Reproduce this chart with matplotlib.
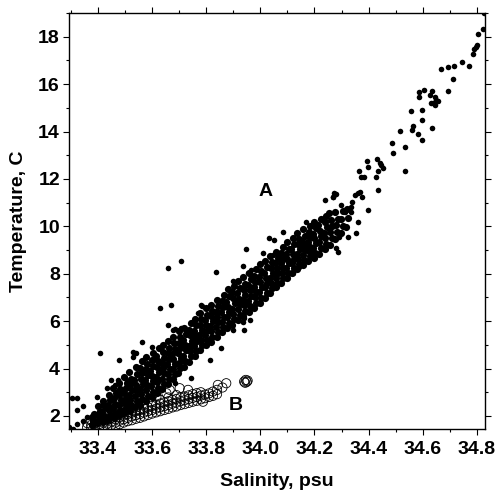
import matplotlib
matplotlib.use("Agg")
import matplotlib.pyplot as plt
from matplotlib.ticker import MultipleLocator, FormatStrFormatter

# ---- Data: salinity (psu) / temperature (C) pairs ----
# Group A, dense core of the T-S relation, listed by salinity column
group_a_core = [
    (33.377, 1.62), (33.383, 1.78), (33.379, 1.95), (33.386, 2.10),
    (33.397, 1.70), (33.404, 1.88), (33.399, 2.02), (33.406, 2.21), (33.401, 2.40),
    (33.418, 1.76), (33.423, 1.98), (33.416, 2.17), (33.425, 2.36), (33.419, 2.62),
    (33.437, 1.82), (33.444, 2.03), (33.441, 2.24), (33.436, 2.45), (33.446, 2.66), (33.439, 2.90),
    (33.458, 1.90), (33.464, 2.12), (33.456, 2.33), (33.462, 2.52), (33.459, 2.74), (33.465, 2.95), (33.457, 3.18),
    (33.477, 2.02), (33.483, 2.25), (33.479, 2.47), (33.486, 2.68), (33.476, 2.90), (33.482, 3.12), (33.479, 3.40),
    (33.497, 2.12), (33.503, 2.33), (33.499, 2.55), (33.505, 2.76), (33.496, 2.97), (33.502, 3.18), (33.507, 3.40), (33.498, 3.64),
    (33.517, 2.22), (33.523, 2.45), (33.519, 2.68), (33.514, 2.90), (33.525, 3.10), (33.518, 3.33), (33.522, 3.56), (33.516, 3.84),
    (33.538, 2.38), (33.543, 2.62), (33.536, 2.86), (33.545, 3.08), (33.539, 3.30), (33.535, 3.52), (33.544, 3.77), (33.540, 4.05),
    (33.557, 2.48), (33.563, 2.70), (33.559, 2.92), (33.555, 3.14), (33.565, 3.36), (33.558, 3.58), (33.562, 3.80), (33.556, 4.03), (33.564, 4.30),
    (33.577, 2.62), (33.584, 2.85), (33.578, 3.08), (33.583, 3.30), (33.575, 3.52), (33.586, 3.74), (33.579, 3.97), (33.582, 4.20), (33.576, 4.50),
    (33.598, 2.80), (33.603, 3.02), (33.596, 3.25), (33.605, 3.47), (33.600, 3.68), (33.594, 3.90), (33.604, 4.12), (33.599, 4.36), (33.602, 4.66),
    (33.617, 2.98), (33.623, 3.20), (33.619, 3.43), (33.614, 3.65), (33.625, 3.86), (33.618, 4.08), (33.622, 4.31), (33.616, 4.55), (33.624, 4.85),
    (33.638, 3.15), (33.643, 3.36), (33.636, 3.58), (33.645, 3.80), (33.640, 4.02), (33.635, 4.24), (33.644, 4.46), (33.639, 4.70), (33.642, 4.98),
    (33.657, 3.33), (33.663, 3.55), (33.659, 3.77), (33.665, 3.99), (33.656, 4.20), (33.662, 4.42), (33.658, 4.64), (33.664, 4.88), (33.660, 5.18),
    (33.678, 3.58), (33.683, 3.78), (33.676, 3.99), (33.685, 4.20), (33.679, 4.40), (33.674, 4.61), (33.684, 4.83), (33.680, 5.06), (33.677, 5.35),
    (33.697, 3.82), (33.703, 4.03), (33.699, 4.24), (33.705, 4.45), (33.696, 4.66), (33.702, 4.87), (33.698, 5.08), (33.704, 5.31), (33.700, 5.60),
    (33.718, 4.08), (33.723, 4.31), (33.716, 4.54), (33.725, 4.77), (33.720, 4.99), (33.714, 5.21), (33.724, 5.44), (33.719, 5.72),
    (33.737, 4.28), (33.744, 4.51), (33.739, 4.74), (33.735, 4.96), (33.746, 5.18), (33.740, 5.40), (33.736, 5.63), (33.743, 5.92),
    (33.758, 4.52), (33.763, 4.74), (33.756, 4.96), (33.765, 5.17), (33.760, 5.38), (33.754, 5.60), (33.764, 5.83), (33.759, 6.10),
    (33.777, 4.78), (33.783, 5.00), (33.779, 5.22), (33.775, 5.43), (33.785, 5.64), (33.778, 5.85), (33.782, 6.07), (33.776, 6.35),
    (33.798, 4.98), (33.803, 5.20), (33.796, 5.42), (33.805, 5.63), (33.800, 5.84), (33.794, 6.05), (33.804, 6.28), (33.799, 6.55),
    (33.817, 5.13), (33.823, 5.35), (33.819, 5.57), (33.814, 5.78), (33.825, 5.99), (33.818, 6.20), (33.822, 6.43), (33.816, 6.70),
    (33.838, 5.33), (33.843, 5.55), (33.836, 5.77), (33.845, 5.98), (33.840, 6.19), (33.835, 6.40), (33.844, 6.63), (33.839, 6.90),
    (33.857, 5.53), (33.863, 5.75), (33.859, 5.97), (33.865, 6.18), (33.856, 6.39), (33.862, 6.60), (33.858, 6.83), (33.864, 7.10),
    (33.878, 5.70), (33.883, 5.93), (33.876, 6.16), (33.885, 6.38), (33.879, 6.60), (33.874, 6.82), (33.884, 7.06), (33.880, 7.35),
    (33.897, 5.85), (33.904, 6.08), (33.899, 6.31), (33.895, 6.53), (33.906, 6.75), (33.900, 6.97), (33.896, 7.21), (33.903, 7.50),
    (33.918, 6.05), (33.923, 6.28), (33.916, 6.51), (33.925, 6.73), (33.920, 6.95), (33.914, 7.17), (33.924, 7.41), (33.919, 7.70),
    (33.937, 6.20), (33.943, 6.43), (33.939, 6.66), (33.935, 6.88), (33.945, 7.10), (33.938, 7.32), (33.942, 7.56), (33.936, 7.85),
    (33.958, 6.40), (33.963, 6.63), (33.956, 6.86), (33.965, 7.08), (33.960, 7.30), (33.954, 7.52), (33.964, 7.76), (33.959, 8.05),
    (33.977, 6.55), (33.983, 6.78), (33.979, 7.01), (33.985, 7.23), (33.976, 7.45), (33.982, 7.67), (33.978, 7.91), (33.984, 8.20),
    (33.998, 6.75), (34.003, 6.98), (33.996, 7.21), (34.005, 7.43), (34.000, 7.65), (33.994, 7.87), (34.004, 8.11), (33.999, 8.40),
    (34.018, 6.98), (34.023, 7.20), (34.016, 7.42), (34.025, 7.63), (34.020, 7.84), (34.014, 8.05), (34.024, 8.28), (34.019, 8.55),
    (34.037, 7.18), (34.043, 7.40), (34.039, 7.62), (34.035, 7.83), (34.045, 8.04), (34.038, 8.25), (34.042, 8.48), (34.036, 8.75),
    (34.058, 7.42), (34.063, 7.63), (34.056, 7.84), (34.065, 8.04), (34.060, 8.24), (34.054, 8.44), (34.064, 8.66), (34.059, 8.92),
    (34.077, 7.62), (34.083, 7.83), (34.079, 8.04), (34.085, 8.24), (34.076, 8.44), (34.082, 8.64), (34.078, 8.86), (34.084, 9.12),
    (34.098, 7.82), (34.103, 8.03), (34.096, 8.24), (34.105, 8.44), (34.100, 8.64), (34.094, 8.84), (34.104, 9.06), (34.099, 9.32),
    (34.118, 8.02), (34.123, 8.23), (34.116, 8.44), (34.125, 8.64), (34.120, 8.84), (34.114, 9.04), (34.124, 9.26), (34.119, 9.52),
    (34.137, 8.22), (34.143, 8.43), (34.139, 8.64), (34.135, 8.84), (34.145, 9.04), (34.138, 9.24), (34.142, 9.46), (34.136, 9.72),
    (34.158, 8.37), (34.163, 8.58), (34.156, 8.79), (34.165, 8.99), (34.160, 9.19), (34.154, 9.39), (34.164, 9.61), (34.159, 9.87),
    (34.177, 8.52), (34.183, 8.73), (34.179, 8.94), (34.185, 9.14), (34.176, 9.34), (34.182, 9.54), (34.178, 9.76), (34.184, 10.02),
    (34.198, 8.67), (34.203, 8.88), (34.196, 9.09), (34.205, 9.29), (34.200, 9.49), (34.194, 9.69), (34.204, 9.91), (34.199, 10.17),
    (34.218, 8.85), (34.223, 9.10), (34.216, 9.35), (34.225, 9.58), (34.220, 9.81), (34.214, 10.05), (34.224, 10.32),
    (34.237, 9.03), (34.243, 9.27), (34.239, 9.50), (34.235, 9.73), (34.245, 9.96), (34.238, 10.19), (34.242, 10.45),
    (34.258, 9.23), (34.263, 9.50), (34.256, 9.77), (34.265, 10.02), (34.260, 10.28), (34.254, 10.55),
    (34.277, 9.45), (34.283, 9.75), (34.279, 10.05), (34.285, 10.33), (34.276, 10.62),
    (34.298, 9.70), (34.304, 10.02), (34.299, 10.33), (34.305, 10.66),
    (34.317, 9.98), (34.323, 10.35), (34.319, 10.72),
]

# Group A, scattered stations around the core
group_a_scatter = [
    (33.303, 2.75), (33.324, 2.75), (33.322, 2.25), (33.344, 2.43), (33.294, 1.55),
    (33.309, 1.45), (33.322, 1.66), (33.345, 1.80), (33.358, 1.95),
    (33.395, 2.81), (33.407, 4.64), (33.414, 2.46), (33.432, 3.17), (33.450, 3.52),
    (33.463, 3.31), (33.478, 4.36), (33.499, 3.59), (33.530, 4.50), (33.530, 4.71),
    (33.561, 5.14), (33.598, 4.92), (33.628, 6.54), (33.659, 8.23), (33.671, 6.68),
    (33.708, 8.54), (33.708, 5.70), (33.677, 5.63), (33.770, 6.33), (33.782, 6.68),
    (33.813, 4.36), (33.837, 8.09), (33.898, 7.71), (33.941, 5.63), (33.960, 6.05),
    (33.935, 8.33), (33.785, 6.65), (33.659, 5.84), (33.684, 5.66), (33.941, 6.12),
    (33.898, 5.63), (33.855, 4.86), (33.745, 3.59), (33.684, 3.38), (33.935, 5.98),
    (33.541, 4.64), (33.474, 3.52),
    (33.948, 9.04), (34.033, 9.49), (34.052, 9.43), (34.009, 8.86), (34.046, 8.79),
    (33.966, 8.16), (33.954, 8.02), (34.291, 9.57), (34.322, 9.57), (34.279, 9.08),
    (34.285, 8.93), (34.144, 8.30), (34.119, 8.02), (34.169, 10.20), (34.083, 9.77),
    (34.359, 10.20), (34.355, 9.70), (34.396, 10.69), (34.240, 11.09), (34.267, 11.25),
    (34.279, 11.37), (34.297, 10.90), (34.313, 10.62), (34.334, 10.62), (34.340, 11.04),
    (34.334, 10.83),
    (34.368, 11.46), (34.359, 11.40), (34.350, 11.32), (34.375, 11.25), (34.273, 11.40),
    (34.267, 11.25), (34.436, 11.54), (34.371, 12.09), (34.383, 12.09), (34.366, 12.33),
    (34.393, 12.76), (34.397, 12.52), (34.432, 12.83), (34.442, 12.66), (34.447, 12.58),
    (34.454, 12.46), (34.436, 12.33), (34.426, 12.07), (34.534, 12.35),
    (34.491, 13.11), (34.533, 13.36), (34.485, 13.50), (34.596, 13.65), (34.584, 13.89),
    (34.516, 14.03), (34.559, 14.07), (34.565, 14.24), (34.635, 14.14), (34.596, 14.49),
    (34.555, 14.86), (34.596, 14.91), (34.645, 15.12), (34.629, 15.19), (34.638, 15.19),
    (34.657, 15.30), (34.650, 15.33), (34.645, 15.45), (34.586, 15.45), (34.627, 15.54),
    (34.586, 15.65), (34.635, 15.69), (34.604, 15.75), (34.694, 15.69),
    (34.711, 16.21), (34.666, 16.64), (34.694, 16.74), (34.715, 16.77), (34.770, 16.77),
    (34.745, 16.94), (34.786, 17.26), (34.790, 17.47), (34.795, 17.58), (34.800, 17.65),
    (34.804, 18.10), (34.823, 18.32), (34.825, 19.00),
]

# Group B, open-circle stations
group_b = [
    (33.360, 1.52), (33.360, 1.70),
    (33.375, 1.50), (33.375, 1.62), (33.375, 1.80),
    (33.390, 1.55), (33.390, 1.68), (33.390, 1.86),
    (33.405, 1.53), (33.405, 1.66), (33.405, 1.78), (33.405, 1.95),
    (33.420, 1.58), (33.420, 1.72), (33.420, 1.88),
    (33.435, 1.55), (33.435, 1.68), (33.435, 1.82), (33.435, 2.00),
    (33.450, 1.62), (33.450, 1.76), (33.450, 1.92), (33.450, 2.08),
    (33.465, 1.58), (33.465, 1.72), (33.465, 1.86), (33.465, 2.02),
    (33.480, 1.65), (33.480, 1.80), (33.480, 1.95), (33.480, 2.12),
    (33.495, 1.72), (33.495, 1.86), (33.495, 2.02), (33.495, 2.20),
    (33.510, 1.78), (33.510, 1.92), (33.510, 2.08), (33.510, 2.26),
    (33.525, 1.82), (33.525, 1.98), (33.525, 2.14),
    (33.540, 1.88), (33.540, 2.03), (33.540, 2.20), (33.540, 2.36),
    (33.555, 1.92), (33.555, 2.08), (33.555, 2.25),
    (33.570, 1.98), (33.570, 2.14), (33.570, 2.30), (33.570, 2.46),
    (33.585, 2.04), (33.585, 2.20), (33.585, 2.36),
    (33.600, 2.10), (33.600, 2.25), (33.600, 2.42), (33.600, 2.58),
    (33.615, 2.15), (33.615, 2.31), (33.615, 2.47),
    (33.630, 2.20), (33.630, 2.36), (33.630, 2.52), (33.630, 2.68),
    (33.645, 2.25), (33.645, 2.41), (33.645, 2.57),
    (33.660, 2.30), (33.660, 2.46), (33.660, 2.62), (33.660, 2.78),
    (33.675, 2.36), (33.675, 2.52), (33.675, 2.68),
    (33.690, 2.40), (33.690, 2.56), (33.690, 2.72), (33.690, 2.88),
    (33.705, 2.46), (33.705, 2.62), (33.705, 2.78),
    (33.720, 2.50), (33.720, 2.66), (33.720, 2.82),
    (33.735, 2.55), (33.735, 2.71), (33.735, 2.87),
    (33.750, 2.60), (33.750, 2.76), (33.750, 2.92),
    (33.765, 2.64), (33.765, 2.80), (33.765, 2.96),
    (33.780, 2.70), (33.780, 2.86), (33.780, 3.00),
    (33.795, 2.75), (33.795, 2.90),
    (33.810, 2.80), (33.810, 2.95),
    (33.825, 2.85), (33.825, 3.03),
    (33.840, 2.92), (33.840, 3.10),
    (33.616, 2.81), (33.653, 2.96), (33.665, 3.10), (33.702, 3.17), (33.733, 3.10),
    (33.788, 2.60), (33.843, 3.31), (33.874, 3.38), (33.860, 3.20),
    (33.940, 3.45), (33.946, 3.52), (33.950, 3.44), (33.944, 3.40), (33.953, 3.49),
]

sal_a_core, temp_a_core = zip(*group_a_core)
sal_a_scatter, temp_a_scatter = zip(*group_a_scatter)
sal_b, temp_b = zip(*group_b)

x_limits = (33.293, 34.83)
y_limits = (1.45, 19.0)

# ---- Figure ----
plt.rcParams['font.family'] = ['Liberation Sans', 'DejaVu Sans']
fig = plt.figure(figsize=(4.97, 4.94), dpi=100)
ax = fig.add_axes([0.1388, 0.1316, 0.8371, 0.8421])

# the core stations overlap heavily, so their dots merge into a dark band
ax.scatter(sal_a_core, temp_a_core, s=27, c='black', linewidths=0, zorder=2)
ax.scatter(sal_a_scatter, temp_a_scatter, s=16, c='black', linewidths=0, zorder=2)
ax.scatter(sal_b, temp_b, s=44, facecolors='none', edgecolors='black',
           linewidths=0.6, zorder=3)

ax.set_xlim(*x_limits)
ax.set_ylim(*y_limits)

ax.xaxis.set_major_locator(MultipleLocator(0.2))
ax.xaxis.set_minor_locator(MultipleLocator(0.1))
ax.xaxis.set_major_formatter(FormatStrFormatter('%.1f'))
ax.yaxis.set_major_locator(MultipleLocator(2))
ax.yaxis.set_minor_locator(MultipleLocator(1))

ax.tick_params(which='both', direction='out', top=True, right=True,
               labeltop=False, labelright=False, width=0.8, colors='black')
ax.tick_params(which='major', length=4.5)
ax.tick_params(which='minor', length=2.5)
ax.tick_params(axis='x', which='major', pad=4)
ax.tick_params(axis='y', which='major', pad=2)

for lbl in ax.get_xticklabels() + ax.get_yticklabels():
    lbl.set_fontsize(14)
    lbl.set_fontweight('bold')

for sp in ax.spines.values():
    sp.set_linewidth(1.0)
    sp.set_color('black')

ax.set_xlabel('Salinity, psu', fontsize=14, fontweight='bold', labelpad=11)
ax.set_ylabel('Temperature, C', fontsize=14, fontweight='bold', labelpad=8)

ax.text(34.02, 11.45, 'A', ha='center', va='center', fontsize=14, fontweight='bold')
ax.text(33.908, 2.42, 'B', ha='center', va='center', fontsize=14, fontweight='bold')

fig.savefig('out.png', dpi=100)
